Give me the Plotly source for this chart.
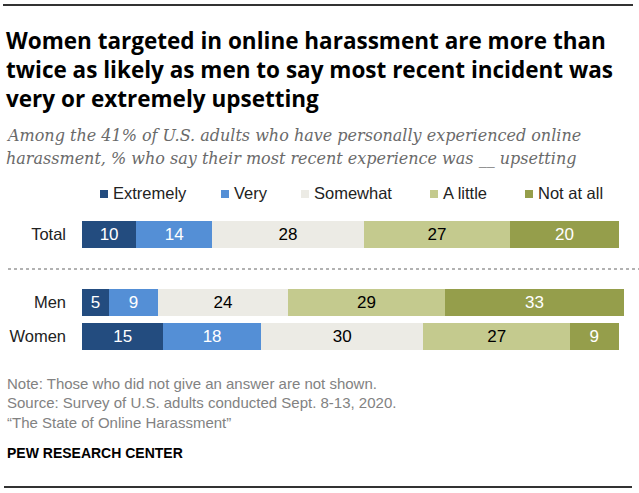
import plotly.graph_objects as go
from plotly.subplots import make_subplots

# Data
responses = ["Extremely", "Very", "Somewhat", "A little", "Not at all"]
colors = ["#234c7f", "#548fd6", "#ecebe5", "#c4ca8e", "#959e4b"]
text_colors = ["white", "white", "black", "black", "white"]

top_groups = ["Total"]
top_values = {
    "Extremely": [10],
    "Very": [14],
    "Somewhat": [28],
    "A little": [27],
    "Not at all": [20],
}

sex_groups = ["Men", "Women"]
sex_values = {
    "Extremely": [5, 15],
    "Very": [9, 18],
    "Somewhat": [24, 30],
    "A little": [29, 27],
    "Not at all": [33, 9],
}

title_lines = [
    "Women targeted in online harassment are more than",
    "twice as likely as men to say most recent incident was",
    "very or extremely upsetting",
]
subtitle_lines = [
    "Among the 41% of U.S. adults who have personally experienced online",
    "harassment, % who say their most recent experience was __ upsetting",
]
note_lines = [
    "Note: Those who did not give an answer are not shown.",
    "Source: Survey of U.S. adults conducted Sept. 8-13, 2020.",
    "\u201cThe State of Online Harassment\u201d",
]

W, H = 639, 493


def py(px):
    # pixel from top -> paper fraction
    return 1 - px / H


def px_x(px):
    return px / W


fig = make_subplots(rows=2, cols=1)

for i, r in enumerate(responses):
    fig.add_trace(go.Bar(
        y=top_groups, x=top_values[r], name=r, orientation="h",
        marker=dict(color=colors[i], line=dict(width=0)),
        text=top_values[r], textposition="inside", insidetextanchor="middle",
        textangle=0, textfont=dict(color=text_colors[i], size=17),
        showlegend=False, hoverinfo="skip",
    ), row=1, col=1)
    fig.add_trace(go.Bar(
        y=sex_groups, x=sex_values[r], name=r, orientation="h",
        marker=dict(color=colors[i], line=dict(width=0)),
        text=sex_values[r], textposition="inside", insidetextanchor="middle",
        textangle=0, textfont=dict(color=text_colors[i], size=17),
        showlegend=False, hoverinfo="skip",
    ), row=2, col=1)

font = "Liberation Sans"
fig.update_layout(
    width=W, height=H,
    margin=dict(l=0, r=0, t=0, b=0),
    paper_bgcolor="white", plot_bgcolor="white",
    barmode="stack", bargap=0.2,
    font=dict(family=font, size=16, color="#222"),
    uniformtext=dict(mode="show", minsize=10),
    xaxis=dict(domain=[px_x(82), px_x(624)], range=[0, 100], visible=False),
    xaxis2=dict(domain=[px_x(82), px_x(624)], range=[0, 100], visible=False),
    yaxis=dict(domain=[py(251.5), py(217.5)], showgrid=False, zeroline=False,
               ticks="", ticklabelstandoff=15, tickfont=dict(size=16.5, color="#222")),
    yaxis2=dict(domain=[py(353.5), py(285.5)], autorange="reversed",
                showgrid=False, zeroline=False, ticks="", ticklabelstandoff=15,
                tickfont=dict(size=16.5, color="#222")),
)

# legend drawn as small squares + labels
legend_x = [100, 221, 301, 430, 525]
for i, r in enumerate(responses):
    x0 = legend_x[i]
    fig.add_shape(type="rect", xref="paper", yref="paper",
                  x0=px_x(x0), x1=px_x(x0 + 8), y0=py(198), y1=py(190),
                  fillcolor=colors[i], line=dict(width=0))
    fig.add_annotation(text=r, xref="paper", yref="paper", x=px_x(x0 + 11),
                       y=py(193), xanchor="left", yanchor="middle", showarrow=False,
                       font=dict(size=16.5, color="#222"))

# rules and separators
fig.add_shape(type="line", xref="paper", yref="paper", x0=px_x(3), x1=px_x(633),
              y0=py(5), y1=py(5), line=dict(color="#333", width=2))
fig.add_shape(type="line", xref="paper", yref="paper", x0=px_x(4), x1=px_x(632),
              y0=py(487), y1=py(487), line=dict(color="#333", width=2))
fig.add_shape(type="line", xref="paper", yref="paper", x0=px_x(8), x1=1,
              y0=py(269), y1=py(269), line=dict(color="#999", width=1.5, dash="dot"))

for k, line in enumerate(title_lines):
    fig.add_annotation(
        text="<b>" + line + "</b>", xref="paper", yref="paper",
        x=px_x(4), y=py(40 + 29.5 * k), xanchor="left", yanchor="middle",
        showarrow=False, font=dict(family="Open Sans", size=22.5, color="#000"),
    )
for k, line in enumerate(subtitle_lines):
    fig.add_annotation(
        text="<i>" + line + "</i>", xref="paper", yref="paper",
        x=px_x(4), y=py(135 + 23 * k), xanchor="left", yanchor="middle",
        showarrow=False, font=dict(family="DejaVu Serif", size=16, color="#6a6a6a"),
    )
for k, line in enumerate(note_lines):
    fig.add_annotation(
        text=line, xref="paper", yref="paper",
        x=px_x(5), y=py(383 + 19.5 * k), xanchor="left", yanchor="middle",
        showarrow=False, font=dict(family=font, size=15, color="#828282"),
    )
fig.add_annotation(
    text="<b>PEW RESEARCH CENTER</b>", xref="paper", yref="paper",
    x=px_x(5), y=py(453), xanchor="left", yanchor="middle", showarrow=False,
    font=dict(family=font, size=14, color="#000"),
)

fig.write_html("out.html", config={"displayModeBar": False},
               post_script="document.body.style.margin='0';document.body.style.padding='0';")
